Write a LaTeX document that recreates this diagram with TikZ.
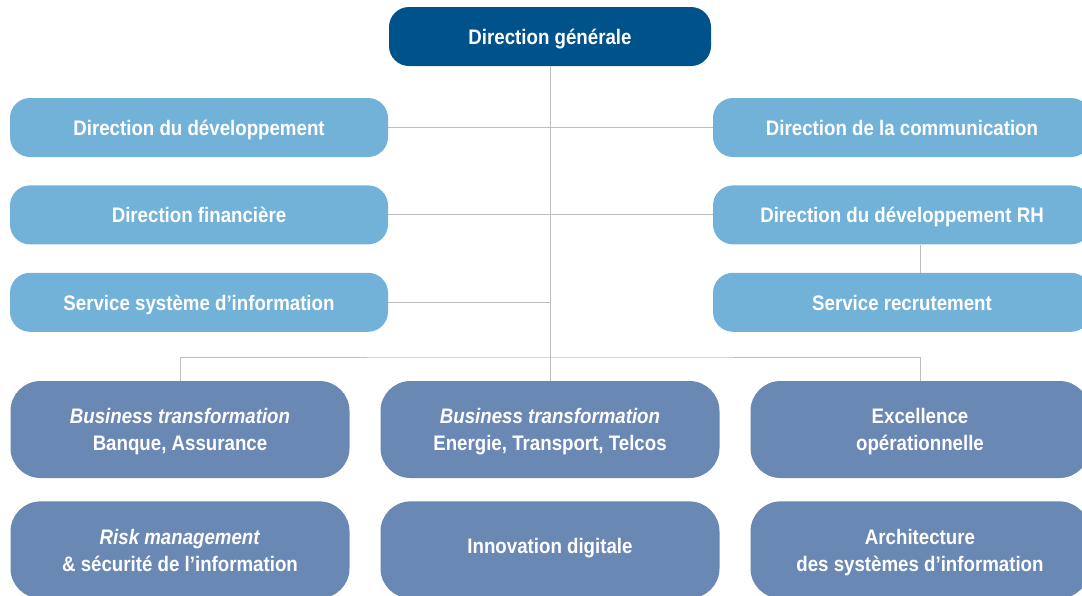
\documentclass[tikz,border=0pt]{standalone}
\usepackage{fontspec}
\setmainfont{Liberation Sans}[FakeStretch=0.89]
\usetikzlibrary{positioning}

\definecolor{darkbox}{HTML}{00528A}
\definecolor{lightbox}{HTML}{72B2D9}
\definecolor{unitbox}{HTML}{6A88B4}
\definecolor{linkgray}{HTML}{BEBEBE}

\tikzset{
  box/.style={rectangle, rounded corners=20pt, text=white, font=\bfseries\fontsize{21}{27}\selectfont,
              align=center, inner sep=0pt},
  oneline/.style={text height=17.5pt, text depth=2.1pt},
  twolines/.style={text height=45pt, text depth=2.4pt},
  head/.style={box, oneline, fill=darkbox, minimum width=322pt, minimum height=59pt},
  staff/.style={box, oneline, fill=lightbox, minimum width=378pt, minimum height=59pt},
  unit/.style={box, twolines, fill=unitbox, rounded corners=30pt, minimum width=339pt, minimum height=97pt},
  link/.style={draw=linkgray, line width=1pt}
}

\begin{document}
\begin{tikzpicture}[x=1pt, y=-1pt]
	\clip (0,0) rectangle (1082,595);
	\useasboundingbox (0,0) rectangle (1082,595);

	% Nodes {direction, staff, units}
	\node [head]   (dg)  at (550,36.5)   {Direction générale};
	\node [staff]  (dev) at (199,127.5)  {Direction du développement};
	\node [staff]  (fin) [below=28pt of dev] {Direction financière};
	\node [staff]  (ssi) [below=28pt of fin] {Service système d’information};
	\node [staff]  (com) at (902,127.5)  {Direction de la communication};
	\node [staff]  (rh)  [below=28pt of com] {Direction du développement RH};
	\node [staff]  (rec) [below=28pt of rh]  {Service recrutement};

	\node [unit]   (bt1) at (180,429.5)  {\textit{Business transformation}\\Banque, Assurance};
	\node [unit]   (bt2) at (550,429.5)  {\textit{Business transformation}\\Energie, Transport, Telcos};
	\node [unit]   (exc) at (920,429.5)  {Excellence\\opérationnelle};
	\node [unit]   (risk) [below=23pt of bt1] {\textit{Risk management}\\\& sécurité de l’information};
	\node [unit, text height=12pt, text depth=4.4pt] (inno) [below=23pt of bt2] {Innovation digitale};
	\node [unit]   (arch) [below=23pt of exc] {Architecture\\des systèmes d’information};

	\coordinate (bus) at (550,357);

	% Paths
	\path [link] (dg.south) -- (bt2.north);
	\path [link] (dev.east) -- (com.west);
	\path [link] (fin.east) -- (rh.west);
	\path [link] (ssi.east) -- (ssi.east -| dg.south);
	\path [link] (rh.south -| exc.north) -- (rec.north -| exc.north);
	\path [link] (bt1.north) |- (bus) -| (exc.north);

\end{tikzpicture}
\end{document}
